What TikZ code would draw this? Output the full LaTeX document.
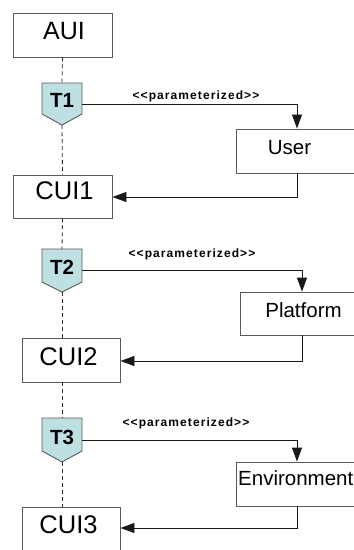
\documentclass[tikz,border=0pt]{standalone}
\usepackage{fontspec}
\setmainfont{Liberation Sans}
\newfontfamily\lblfont[LetterSpace=9]{Liberation Sans}
\usetikzlibrary{arrows.meta}
\definecolor{boxline}{HTML}{5A5A5A}
\definecolor{tfill}{HTML}{BEE0E3}
\tikzset{
  box/.style={draw=boxline, line width=0.9pt, fill=white, rectangle, inner sep=0pt},
  boxtext/.style={inner sep=0pt, font=\fontsize{25.5}{28}\selectfont},
  rtext/.style={inner sep=0pt, font=\fontsize{20.5}{23}\selectfont},
  ttext/.style={inner sep=0pt, font=\fontsize{20.5}{23}\selectfont\bfseries},
  lbl/.style={inner sep=0pt, font=\lblfont\fontsize{12}{14}\selectfont\bfseries},
  tshape/.style={draw=boxline, line width=0.9pt, fill=tfill},
  life/.style={draw=black!85, line width=0.8pt, dash pattern=on 4pt off 3pt},
  conn/.style={draw=black!90, line width=0.9pt, -{Triangle[length=14pt,width=10pt]}}
}
\begin{document}
\begin{tikzpicture}[x=1pt,y=-1pt]
\useasboundingbox (0,0) rectangle (354,550);
\clip (0,0) rectangle (354,550);
\fill[white] (0,0) rectangle (354,550);

% lifeline boxes
\node[box, minimum width=99pt, minimum height=44pt] (aui) at (62.5,35) {};
\node[boxtext, font=\fontsize{25}{27}\selectfont] (auit) at (64,31) {AUI};
\node[box, minimum width=99pt, minimum height=43pt] (cui1) at (62.5,196.5) {};
\node[boxtext] (cui1t) at (64.5,191) {CUI1};
\node[box, minimum width=98pt, minimum height=44pt] (cui2) at (71,360) {};
\node[boxtext] (cui2t) at (68.5,357) {CUI2};
\node[box, minimum width=98pt, minimum height=53pt] (cui3) at (71,533.5) {};
\node[boxtext] (cui3t) at (68.5,525) {CUI3};

% parameter boxes
\node[box, minimum width=130pt, minimum height=44pt] (user) at (301,151) {};
\node[rtext] (usert) at (289.5,148) {User};
\node[box, minimum width=130pt, minimum height=43pt] (plat) at (305,313.5) {};
\node[rtext] (platt) at (303.5,310) {Platform};
\node[box, minimum width=130pt, minimum height=44pt] (env) at (301,484) {};
\node[rtext, anchor=west] (envt) at (238,478) {Environment};

% transformation pentagons
\draw[tshape] (42,83) -- (82,83) -- (82,114) -- (62,125) -- (42,114) -- cycle;
\coordinate (t1top) at (62,83); \coordinate (t1bot) at (62,125); \coordinate (t1out) at (82,104);
\node[ttext] (t1) at (62,100) {T1};
\draw[tshape] (42,249) -- (82,249) -- (82,282) -- (62,292) -- (42,282) -- cycle;
\coordinate (t2top) at (62,249); \coordinate (t2bot) at (62,292); \coordinate (t2out) at (82,270);
\node[ttext] (t2) at (62,267) {T2};
\draw[tshape] (42,418) -- (82,418) -- (82,451) -- (62,462) -- (42,451) -- cycle;
\coordinate (t3top) at (62,418); \coordinate (t3bot) at (62,462); \coordinate (t3out) at (82,440);
\node[ttext] (t3) at (62,437) {T3};

% dashed lifeline
\draw[life] (aui.south) -- (t1top);
\draw[life] (t1bot) -- (cui1.north);
\draw[life] (cui1.south) -- (t2top);
\draw[life] (t2bot) -- (62,338);
\draw[life] (62,382) -- (t3top);
\draw[life] (t3bot) -- (62,507);

% connectors
\draw[conn] (t1out) -| (297,0 |- user.north);
\draw[conn] (297,0 |- user.south) |- (cui1.east |- 0,197);
\draw[conn] (t2out) -| (302,0 |- plat.north);
\draw[conn] (302,0 |- plat.south) |- (cui2.east |- 0,361);
\draw[conn] (t3out) -| (297,0 |- env.north);
\draw[conn] (297,0 |- env.south) |- (cui3.east |- 0,528);

% labels
\node[lbl] (l1) at (196,96) {<<parameterized>>};
\node[lbl] (l2) at (192,254) {<<parameterized>>};
\node[lbl] (l3) at (186,423) {<<parameterized>>};
\end{tikzpicture}
\end{document}
